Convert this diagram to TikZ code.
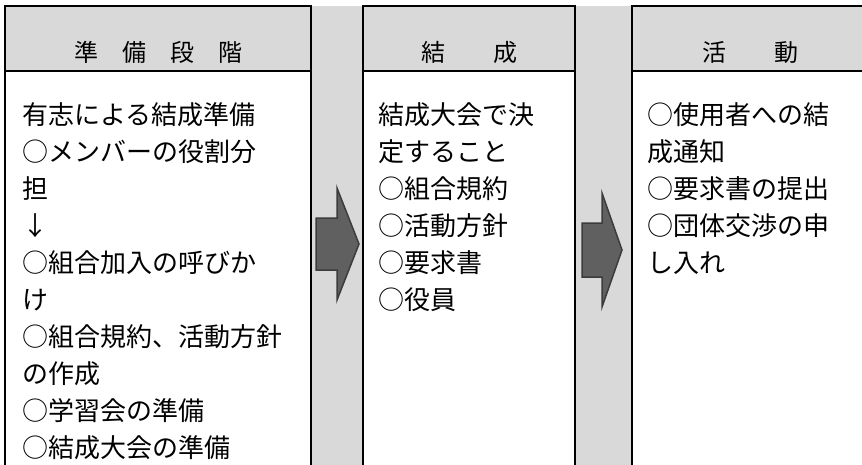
\documentclass[tikz,border=0pt]{standalone}
\usepackage{fontspec}
\newfontfamily\jpfont{Noto Sans CJK JP}
\definecolor{hdrgray}{HTML}{D9D9D9}
\definecolor{arrowfill}{HTML}{606060}
\definecolor{arrowline}{HTML}{3C3C3C}
\tikzset{
  boxline/.style={draw=black,line width=1.6pt},
  hdrtext/.style={font=\jpfont\fontsize{24}{28}\selectfont, anchor=base, inner sep=0pt},
  bodytext/.style={font=\jpfont\fontsize{26}{37}\selectfont, anchor=north west, align=left, inner sep=0pt},
  bigarrow/.style={fill=arrowfill, draw=arrowline, line width=1.5pt, line join=miter},
}
\begin{document}
\begin{tikzpicture}[x=1pt,y=-1pt]
\useasboundingbox (0,0) rectangle (862,464);
\clip (0,0) rectangle (862,464);
% gray background band (headers and gaps)
\fill[hdrgray] (5,6) rectangle (875,475);
% white bodies
\fill[white] (5,71) rectangle (311,475);
\fill[white] (363,71) rectangle (575,475);
\fill[white] (632,71) rectangle (875,475);
% box outlines
\draw[boxline] (5,475) -- (5,6) -- (311,6) -- (311,475);
\draw[boxline] (5,71) -- (311,71);
\draw[boxline] (363,475) -- (363,6) -- (575,6) -- (575,475);
\draw[boxline] (363,71) -- (575,71);
\draw[boxline] (632,475) -- (632,6) -- (870,6) -- (870,475);
\draw[boxline] (632,71) -- (870,71);
% headers
\node[hdrtext] (h1) at (158,61) {準　備　段　階};
\node[hdrtext] (h2) at (469,61) {結　　成};
\node[hdrtext] (h3) at (750,61) {活　　動};
% bodies
\node[bodytext] (b1) at (22,100) {\rule{0pt}{24pt}有志による結成準備\\○メンバーの役割分\\担\\↓\\○組合加入の呼びか\\け\\○組合規約、活動方針\\の作成\\○学習会の準備\\○結成大会の準備};
\node[bodytext] (b2) at (378,100) {\rule{0pt}{24pt}結成大会で決\\定すること\\○組合規約\\○活動方針\\○要求書\\○役員};
\node[bodytext] (b3) at (647,100) {\rule{0pt}{24pt}○使用者への結\\成通知\\○要求書の提出\\○団体交渉の申\\し入れ};
% arrows
\draw[bigarrow] (316,218) -- (337,218) -- (337,188) -- (359,244) -- (337,300) -- (337,270) -- (316,270) -- cycle;
\draw[bigarrow] (582,223) -- (602,223) -- (602,193) -- (622,250) -- (602,307) -- (602,277) -- (582,277) -- cycle;
\end{tikzpicture}
\end{document}
